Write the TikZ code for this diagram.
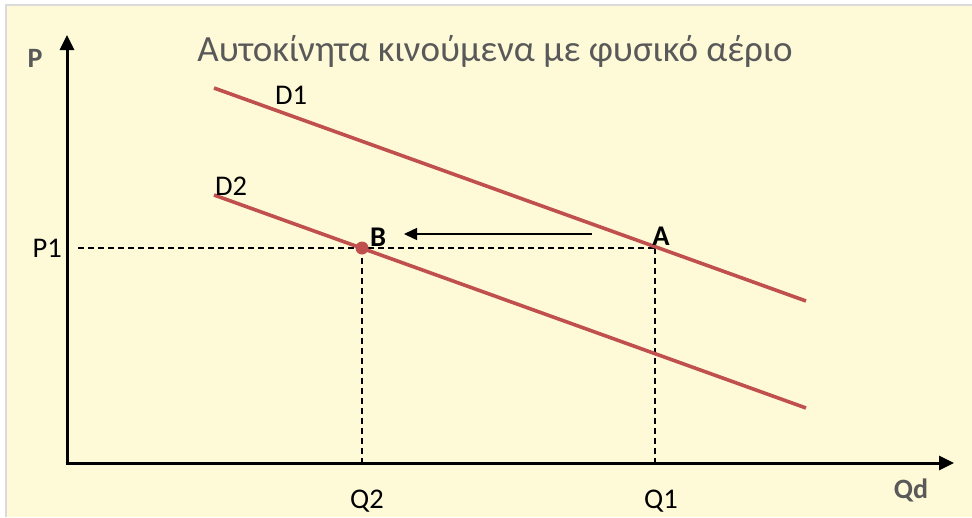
\documentclass[tikz,border=0pt]{standalone}
\usepackage{fontspec}
\setmainfont{Carlito}
\usetikzlibrary{arrows.meta}
\definecolor{bgc}{HTML}{FEFAD8}
\definecolor{framec}{HTML}{DADADA}
\definecolor{titlec}{HTML}{595959}
\definecolor{curvec}{HTML}{C0504D}
\tikzset{
  axisline/.style={line width=3pt, -{Triangle[length=15pt,width=14pt]}},
  demand/.style={line width=3.6pt, curvec},
  guide/.style={line width=1.5pt, dash pattern=on 6pt off 4pt},
  shiftarrow/.style={line width=1.5pt, -{Triangle[length=13pt,width=12pt]}},
  lbl/.style={inner sep=0pt, font=\fontsize{28.5}{32}\selectfont},
  boldlbl/.style={inner sep=0pt, font=\fontsize{28.5}{32}\selectfont\bfseries},
  axlbl/.style={inner sep=0pt, text=titlec, font=\fontsize{28}{32}\selectfont\bfseries},
}
\begin{document}
\begin{tikzpicture}[x=1pt,y=-1pt]
\useasboundingbox (0,0) rectangle (972,517);
\fill[framec] (5,4) rectangle (972,517);
\fill[bgc] (7,6) rectangle (972,517);
% coordinates
\coordinate (O) at (67,463);
\coordinate (Ytop) at (67,35);
\coordinate (Xend) at (954,463);
\coordinate (D1s) at (214,88);
\coordinate (D1e) at (806,301);
\coordinate (D2s) at (214,195);
\coordinate (D2e) at (806,408);
\coordinate (Apt) at (655,248);
\coordinate (Bpt) at (362,248);
\coordinate (P1s) at (78,248);
\coordinate (Q1b) at (655,463);
\coordinate (Q2b) at (362,463);
\coordinate (Arrs) at (592,234);
\coordinate (Arre) at (404,234);
% axes
\draw[axisline] (O) -- (Ytop);
\draw[axisline] ([xshift=-1.5pt]O) -- (Xend);
% guides
\draw[guide] (P1s) -- (Apt);
\draw[guide] (Bpt) -- (Q2b);
\draw[guide] (Apt) -- (Q1b);
% demand curves
\draw[demand] (D1s) -- (D1e);
\draw[demand] (D2s) -- (D2e);
\fill[curvec] (Bpt) circle (6.5pt);
% shift arrow
\draw[shiftarrow] (Arrs) -- (Arre);
% labels
\node[inner sep=0pt, text=titlec, font=\fontsize{37}{42}\selectfont, anchor=base] (title) at (495,61) {Αυτοκίνητα κινούμενα με φυσικό αέριο};
\node[axlbl, anchor=base] (Plbl) at (35,67) {P};
\node[axlbl, anchor=base] (Qdlbl) at (911,498) {Qd};
\node[lbl, anchor=base] (D1lbl) at (291,104) {D1};
\node[lbl, anchor=base] (D2lbl) at (231,195) {D2};
\node[lbl, anchor=base east] (P1lbl) at (62,257) {P1};
\node[boldlbl, anchor=base] (Blbl) at (378,246) {B};
\node[boldlbl, anchor=base] (Albl) at (661,245) {A};
\node[lbl, anchor=base] (Q2lbl) at (367,508) {Q2};
\node[lbl, anchor=base] (Q1lbl) at (661,508) {Q1};
\end{tikzpicture}
\end{document}
